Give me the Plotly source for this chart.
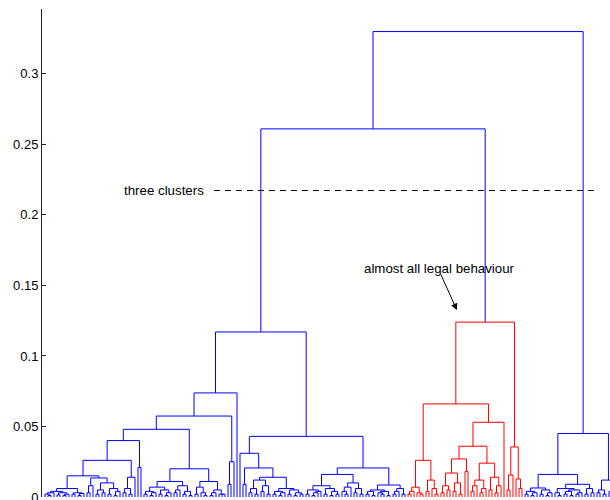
import plotly.graph_objects as go

# Dendrogram data: merge height between each pair of neighbouring leaves
# (leaf order left -> right). The tree is rebuilt by splitting at the largest gap.
gaps_C = [0.002, 0.001, 0.003, 0.004, 0.0015, 0.003, 0.001, 0.002,
          0.006,
          0.002, 0.003, 0.001, 0.0025,
          0.015,
          0.003, 0.008,
          0.0135,
          0.002, 0.005, 0.003, 0.010, 0.002, 0.006, 0.001, 0.004,
          0.026,
          0.003, 0.006, 0.002,
          0.014, 0.040, 0.021, 0.048,
          0.002, 0.004, 0.001, 0.003, 0.007, 0.002, 0.005, 0.001, 0.003,
          0.011,
          0.003, 0.005, 0.008, 0.002, 0.004, 0.001,
          0.020,
          0.002, 0.007, 0.003, 0.001,
          0.011,
          0.001, 0.003, 0.005, 0.002, 0.002,
          0.0574, 0.009, 0.025, 0.0738]
join_B = 0.117
gaps_D = [0.031, 0.009, 0.0206,
          0.003, 0.006, 0.002, 0.012, 0.004, 0.008, 0.002,
          0.014,
          0.002, 0.004, 0.001, 0.003, 0.006, 0.002, 0.005, 0.001, 0.003, 0.002,
          0.043,
          0.002, 0.005, 0.001, 0.003, 0.004, 0.008, 0.002, 0.006, 0.001, 0.004, 0.002,
          0.016,
          0.004, 0.002, 0.007, 0.010, 0.003, 0.006, 0.002,
          0.0206,
          0.002, 0.004, 0.001, 0.005, 0.003, 0.002, 0.004, 0.001,
          0.0085,
          0.002, 0.004, 0.006, 0.002]
join_A = 0.261
gaps_red = [0.002, 0.004, 0.007, 0.003, 0.002,
            0.026,
            0.004, 0.012, 0.006, 0.002,
            0.066,
            0.003, 0.008, 0.005, 0.017, 0.004, 0.010, 0.002,
            0.027, 0.018, 0.036,
            0.004, 0.008, 0.012, 0.003, 0.006,
            0.024,
            0.005, 0.014, 0.003, 0.008,
            0.053, 0.124,
            0.005, 0.0156,
            0.0355,
            0.0128, 0.006]
join_root = 0.33
gaps_Z = [0.002, 0.004, 0.001, 0.003, 0.0064, 0.002, 0.005, 0.001, 0.003,
          0.016,
          0.003, 0.001, 0.006, 0.002, 0.004, 0.001, 0.005, 0.002, 0.003,
          0.009,
          0.002, 0.006, 0.003,
          0.045,
          0.003, 0.005, 0.002,
          0.012,
          0.004, 0.002, 0.006, 0.003]

gaps = gaps_C + [join_B] + gaps_D + [join_A] + gaps_red + [join_root] + gaps_Z
n_leaves = len(gaps) + 1
red_leaves = (122, 160)          # leaves of the highlighted cluster

y_ticks = [0, 0.05, 0.1, 0.15, 0.2, 0.25, 0.3]
y_ticktext = ["0", "0.05", "0.1", "0.15", "0.2", "0.25", "0.3"]
y_max = 0.346
x_max = 568 / 3.0

cut_height = 0.2173
cut_x = [57.3, 185.0]
label_cut = "three clusters"
label_cut_x = 26.7
label_legal = "almost all legal behaviour"
label_legal_pos = (106.7, 0.1617)
arrow_tail = (132.7, 0.1589)
arrow_head = (138.3, 0.1326)

BLUE = "#0000ff"
RED = "#ff0000"
segs = {BLUE: ([], []), RED: ([], [])}


def build(lo, hi):
    if lo == hi:
        return float(lo), 0.0
    seg = gaps[lo - 1:hi - 1]
    k = max(range(len(seg)), key=lambda i: seg[i])
    h = seg[k]
    split = lo + k
    xl, hl = build(lo, split)
    xr, hr = build(split + 1, hi)
    col = RED if (red_leaves[0] <= lo and hi <= red_leaves[1]) else BLUE
    xs, ys = segs[col]
    xs.extend([xl, xl, xr, xr, None])
    ys.extend([hl, h, h, hr, None])
    return (xl + xr) / 2.0, h


build(1, n_leaves)

fig = go.Figure()
for col in (BLUE, RED):
    xs, ys = segs[col]
    fig.add_trace(go.Scatter(x=xs, y=ys, mode="lines",
                             line=dict(color=col, width=1),
                             hoverinfo="skip", showlegend=False))

fig.add_trace(go.Scatter(x=cut_x, y=[cut_height, cut_height], mode="lines",
                         line=dict(color="black", width=1, dash="6px,5px"),
                         hoverinfo="skip", showlegend=False))

font = dict(family="Liberation Sans, Arial, sans-serif", size=13.3, color="black")
tick_font = dict(family="Liberation Sans, Arial, sans-serif", size=13, color="black")
fig.add_annotation(x=label_cut_x, y=cut_height, text=label_cut, showarrow=False,
                   xanchor="left", yanchor="middle", font=font)
fig.add_annotation(x=label_legal_pos[0], y=label_legal_pos[1], text=label_legal,
                   showarrow=False, xanchor="left", yanchor="middle", font=font)
fig.add_annotation(x=arrow_head[0], y=arrow_head[1], ax=arrow_tail[0], ay=arrow_tail[1],
                   axref="x", ayref="y", text="", showarrow=True,
                   arrowhead=2, arrowsize=1.3, arrowwidth=1, arrowcolor="black")

fig.update_layout(
    width=610, height=500,
    margin=dict(l=42, r=0, t=9, b=3, autoexpand=False),
    paper_bgcolor="white", plot_bgcolor="white",
    xaxis=dict(range=[0, x_max], showgrid=False, zeroline=False, showline=False,
               showticklabels=False, ticks="", automargin=False),
    yaxis=dict(range=[0, y_max], tickvals=y_ticks, ticktext=y_ticktext,
               ticks="inside", ticklen=4, tickcolor="#262626", tickwidth=1,
               showline=True, linecolor="#262626", linewidth=1,
               showgrid=False, zeroline=False, tickfont=tick_font,
               ticklabeloverflow="allow", automargin=False),
)

fig.write_html("out.html")
